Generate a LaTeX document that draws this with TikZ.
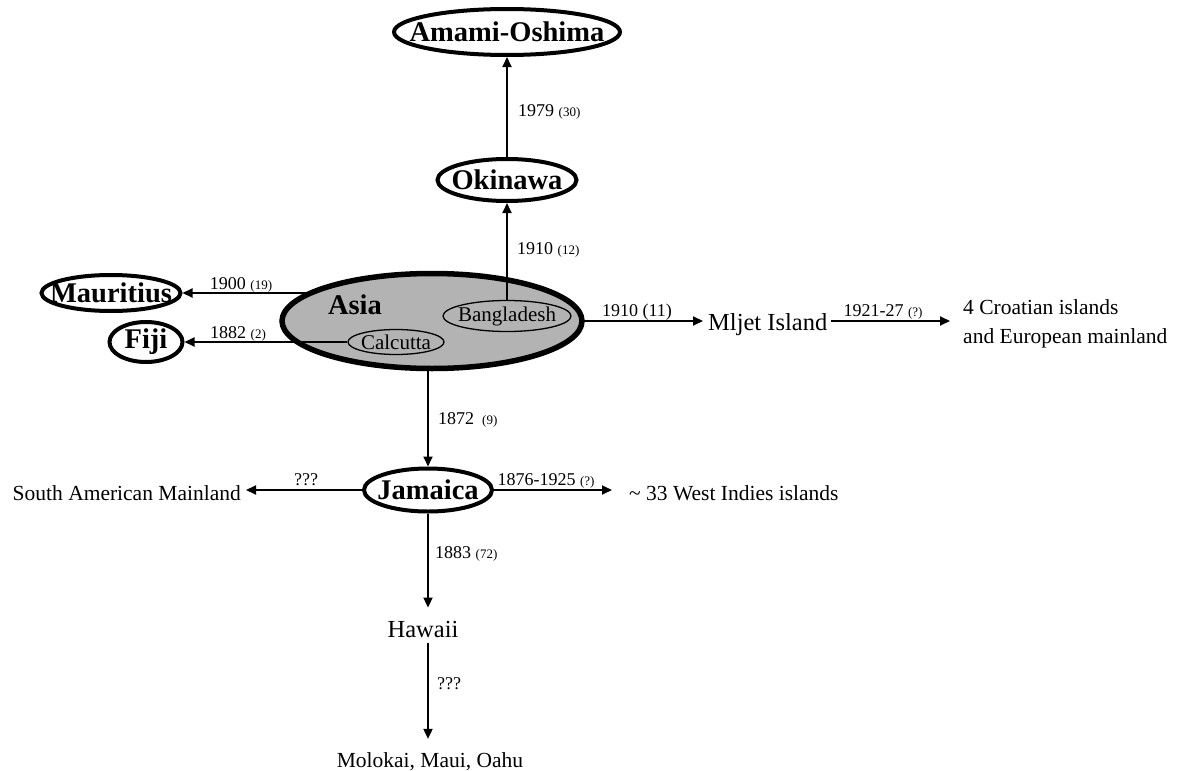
\documentclass[tikz,border=0pt]{standalone}
\usepackage{fontspec}
\setmainfont{Liberation Serif}
\usetikzlibrary{shapes.geometric,arrows.meta,backgrounds}
\definecolor{asiagray}{RGB}{179,179,179}
\newcommand\Fname{\fontsize{28.5}{32}\selectfont\bfseries}
\newcommand\Flbl{\fontsize{18}{20}\selectfont}
\newcommand\Fsm{\fontsize{13}{15}\selectfont}
\newcommand\Fin{\fontsize{21}{25}\selectfont}
\newcommand\Fcro{\fontsize{21.5}{29}\selectfont}
\newcommand\Fmid{\fontsize{24.5}{28}\selectfont}
\newcommand\Ftxt{\fontsize{21.5}{25}\selectfont}
\newcommand\Zb[1]{\makebox[0pt]{#1}}
\tikzset{
  place/.style={ellipse, draw, line width=4pt, inner sep=0pt, font=\Fname},
  inplace/.style={ellipse, draw, line width=1.3pt, inner sep=0pt, font=\Fin},
  txt/.style={inner sep=0pt},
  lbl/.style={inner sep=0pt, font=\Flbl},
  conn/.style={line width=1.8pt, -{Triangle[length=10pt,width=9pt]}}
}
\begin{document}
\begin{tikzpicture}[x=1pt,y=-1pt]
\useasboundingbox (0,0) rectangle (1184,771);
% ellipse nodes
\node[place, minimum width=226pt, minimum height=46pt] (amami) at (507,32) {\Zb{Amami-Oshima}};
\node[place, minimum width=139pt, minimum height=42pt] (okinawa) at (507,180) {\Zb{Okinawa}};
\node[ellipse, draw, line width=5.5pt, fill=asiagray, inner sep=0pt, minimum width=300pt, minimum height=95pt] (asia) at (432,321) {};
\node[txt, font=\Fname] (asiatxt) at (355,305) {Asia};
\node[inplace, minimum width=128pt, minimum height=31pt] (bangla) at (507,316) {\Zb{Bangladesh}};
\node[inplace, minimum width=96pt, minimum height=25pt] (calcutta) at (396,342) {\Zb{Calcutta}};
\node[place, minimum width=139pt, minimum height=36pt] (mauritius) at (111,293) {\Zb{Mauritius}};
\node[place, minimum width=73pt, minimum height=40pt] (fiji) at (146,342) {\Zb{Fiji}};
\node[place, minimum width=128pt, minimum height=43pt] (jamaica) at (428,490) {\Zb{Jamaica}};
% text nodes
\node[txt, font=\Fmid, anchor=base west] (mljet) at (708,330) {Mljet Island};
\node[txt, font=\Fcro, anchor=west, align=left] (croatia) at (963,324) {4 Croatian islands\\and European mainland};
\node[txt, font=\Ftxt, anchor=base east] (samain) at (241,500) {South American Mainland};
\node[txt, font=\Ftxt, anchor=base west] (westindies) at (629,500) {\textasciitilde{} 33 West Indies islands};
\node[txt, font=\Fmid, anchor=base] (hawaii) at (423,637) {Hawaii};
\node[txt, font=\Ftxt, anchor=base] (molokai) at (430,767) {Molokai, Maui, Oahu};
% connectors hidden under Asia
\begin{scope}[on background layer]
\draw[conn] (asia.center |- mauritius.east) -- (mauritius.east);
\draw[conn, shorten >=5pt] (asia.center) -- (asia.center -| mljet.west);
\draw[conn] (jamaica.north |- asia.center) -- (jamaica.north);
\end{scope}
% other connectors
\draw[conn] (calcutta.west) -- (calcutta.west -| fiji.east);
\draw[conn] (bangla.north) -- (bangla.north |- okinawa.south);
\draw[conn] (okinawa.north) -- (amami.south);
\draw[conn, shorten <=4pt, shorten >=13pt] (asia.center -| mljet.east) -- (asia.center -| croatia.west);
\draw[conn, shorten >=5pt] (jamaica.west) -- (jamaica.west -| samain.east);
\draw[conn, shorten >=17pt] (jamaica.east) -- (jamaica.east -| westindies.west);
\draw[conn, shorten >=13pt] (jamaica.south) -- (jamaica.south |- hawaii.north);
\draw[conn, shorten <=6pt, shorten >=13pt] (jamaica.south |- hawaii.south) -- (jamaica.south |- molokai.north);
% labels
\node[lbl, anchor=base west] (l1979) at (518,116) {1979 {\Fsm(30)}};
\node[lbl, anchor=base west] (l1910a) at (517,254) {1910 {\Fsm(12)}};
\node[lbl, anchor=base] (l1900) at (241,289) {1900 {\Fsm(19)}};
\node[lbl, anchor=base] (l1882) at (238,338) {1882 {\Fsm(2)}};
\node[lbl, anchor=base] (l1910b) at (637,316) {1910 (11)};
\node[lbl, anchor=base] (l1921) at (883,316) {1921-27 {\Fsm(?)}};
\node[lbl, anchor=base west] (l1872) at (438,424) {1872\hspace{8pt}{\Fsm(9)}};
\node[lbl, anchor=base] (lq1) at (306,485) {???};
\node[lbl, anchor=base] (l1876) at (546,485) {1876-1925 {\Fsm(?)}};
\node[lbl, anchor=base west] (l1883) at (435,558) {1883 {\Fsm(72)}};
\node[lbl, anchor=base west] (lq2) at (437,689) {???};
\end{tikzpicture}
\end{document}
